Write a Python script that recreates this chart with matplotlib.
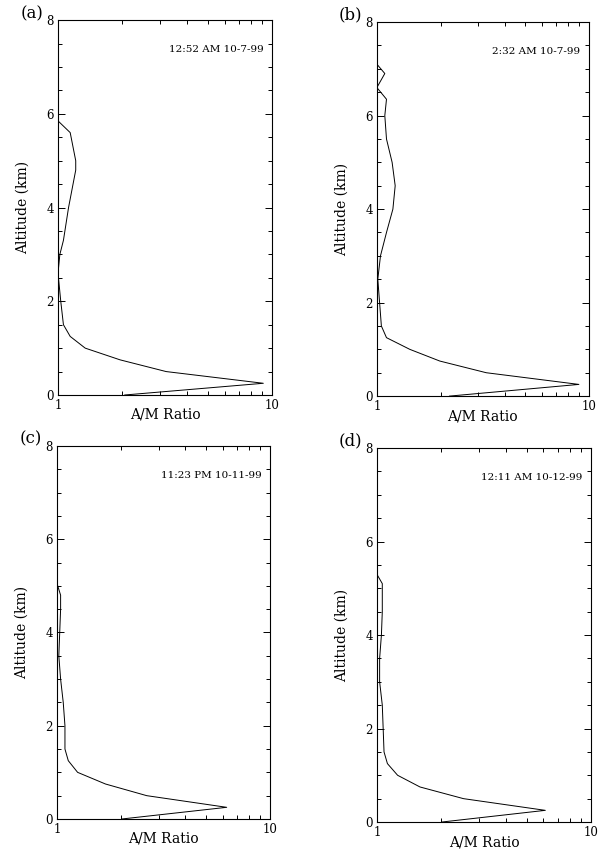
from matplotlib import pyplot as plt
from matplotlib.ticker import LogLocator, MultipleLocator, FixedFormatter, FixedLocator, NullFormatter
import numpy as np

plt.rcParams['font.family'] = ['DejaVu Serif']

# altitude (km) and aerosol/molecular ratio
alt_a = [0.0, 0.25, 0.5, 0.75, 1.0, 1.25, 1.5, 2.0, 2.6, 3.0, 3.3, 4.0, 4.8, 5.0, 5.6, 5.85]
ratio_a = [2.05, 9.1, 3.2, 1.95, 1.34, 1.14, 1.06, 1.03, 1.0, 1.02, 1.06, 1.12, 1.21, 1.21, 1.14, 1.0]

alt_b = [0.0, 0.25, 0.5, 0.75, 1.0, 1.25, 1.5, 2.0, 2.5, 3.0, 3.5, 4.0, 4.5, 5.0, 5.5, 6.0, 6.35, 6.6, 6.9, 7.1]
ratio_b = [2.2, 8.97, 3.28, 1.98, 1.43, 1.11, 1.05, 1.03, 1.01, 1.04, 1.11, 1.19, 1.22, 1.18, 1.11, 1.09, 1.11, 1.0, 1.09, 1.0]

alt_c = [0.0, 0.25, 0.5, 0.75, 1.0, 1.25, 1.5, 2.0, 2.5, 3.0, 3.5, 4.0, 4.5, 4.8, 5.05]
ratio_c = [2.02, 6.27, 2.64, 1.69, 1.25, 1.13, 1.09, 1.09, 1.07, 1.04, 1.02, 1.03, 1.04, 1.04, 1.0]

alt_d = [0.0, 0.25, 0.5, 0.75, 1.0, 1.25, 1.5, 2.0, 2.5, 3.0, 3.5, 4.0, 4.5, 5.1, 5.3]
ratio_d = [2.01, 6.12, 2.54, 1.59, 1.25, 1.12, 1.08, 1.07, 1.06, 1.03, 1.03, 1.05, 1.06, 1.06, 1.0]

panel_labels = ["(a)", "(b)", "(c)", "(d)"]
stamps = ["12:52 AM 10-7-99", "2:32 AM 10-7-99", "11:23 PM 10-11-99", "12:11 AM 10-12-99"]

fig = plt.figure(figsize=(6.03, 8.5), dpi=100)

rects = [
    [0.0962, 0.5353, 0.355, 0.441],
    [0.625, 0.534, 0.3516, 0.44],
    [0.0945, 0.0365, 0.353, 0.4388],
    [0.625, 0.0329, 0.355, 0.44],
]
profiles = [(ratio_a, alt_a), (ratio_b, alt_b), (ratio_c, alt_c), (ratio_d, alt_d)]

for i in range(4):
    ax = fig.add_axes(rects[i])
    x, y = profiles[i]
    ax.plot(x, y, color='black', lw=0.7)

    ax.set_xscale('log')
    ax.set_xlim(1, 10)
    ax.set_ylim(0, 8)
    ax.xaxis.set_major_locator(FixedLocator([1, 10]))
    ax.xaxis.set_major_formatter(FixedFormatter(["1", "10"]))
    ax.xaxis.set_minor_locator(LogLocator(base=10, subs=np.arange(2, 10)))
    ax.xaxis.set_minor_formatter(NullFormatter())
    ax.yaxis.set_major_locator(MultipleLocator(2))
    ax.yaxis.set_minor_locator(MultipleLocator(0.5))

    ax.tick_params(which='both', direction='in', top=True, right=True,
                   labelsize=8.5, width=0.7, pad=3)
    ax.tick_params(which='major', length=5)
    ax.tick_params(which='minor', length=3)
    for sp in ax.spines.values():
        sp.set_linewidth(0.8)

    ax.set_xlabel("A/M Ratio", fontsize=10, labelpad=-3)
    ax.set_ylabel("Altitude (km)", fontsize=10, labelpad=12)
    ax.text(0.96, 0.922, stamps[i], transform=ax.transAxes, ha='right', va='center', fontsize=7.5)
    ax.text(-0.123, 1.018, panel_labels[i], transform=ax.transAxes, ha='center', va='center', fontsize=12)

plt.savefig("out.png", dpi=100)
